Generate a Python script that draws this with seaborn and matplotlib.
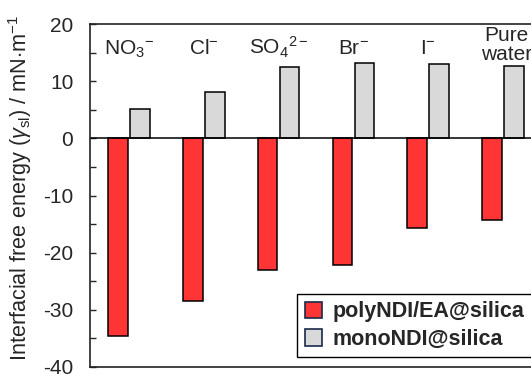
import matplotlib
matplotlib.use("Agg")
import matplotlib.pyplot as plt
import seaborn as sns
import pandas as pd
from matplotlib.ticker import MultipleLocator

categories = [r"NO$_3{}^{-}$", r"Cl$^{-}$", r"SO$_4{}^{2-}$", r"Br$^{-}$", r"I$^{-}$", "Pure\nwater"]
series_names = ["polyNDI/EA@silica", "monoNDI@silica"]
poly_values = [-34.6, -28.5, -23.1, -22.2, -15.6, -14.3]
mono_values = [5.2, 8.1, 12.4, 13.2, 13.0, 12.6]
y_ticks = [-40, -30, -20, -10, 0, 10, 20]
colors = {"polyNDI/EA@silica": "#ff3535", "monoNDI@silica": "#d9d9d9"}

sns.set_style("ticks")
plt.rcParams["font.family"] = ["Liberation Sans", "DejaVu Sans"]
plt.rcParams["mathtext.fontset"] = "custom"
plt.rcParams["mathtext.rm"] = "Liberation Sans"
plt.rcParams["mathtext.it"] = "Liberation Sans:italic"
plt.rcParams["mathtext.bf"] = "Liberation Sans:bold"
plt.rcParams["axes.unicode_minus"] = False

rows = []
for i, c in enumerate(categories):
    rows.append({"cat": i, "series": series_names[0], "val": poly_values[i]})
    rows.append({"cat": i, "series": series_names[1], "val": mono_values[i]})
df = pd.DataFrame(rows)

fig = plt.figure(figsize=(5.31, 3.74), dpi=100)
ax = fig.add_axes([90 / 531, 1 - 367 / 374, 452 / 531, 343 / 374])

sns.barplot(data=df, x="cat", y="val", hue="series", hue_order=series_names,
            palette=colors, saturation=1, width=0.586, gap=0.1, edgecolor="black",
            linewidth=1.1, ax=ax, legend=True)

ax.set_xlim(-0.52, 5.52)
ax.set_ylim(-40, 20)
ax.set_yticks(y_ticks)
ax.set_yticklabels([str(t) for t in y_ticks], fontsize=15)
ax.yaxis.set_minor_locator(MultipleLocator(5))
ax.tick_params(axis="y", which="both", direction="in", length=4, width=1.0, pad=12)
ax.tick_params(axis="x", which="both", bottom=False, labelbottom=False)
ax.set_xlabel("")
ax.axhline(0, color="black", lw=1.1, zorder=1)

for s in ["left", "top", "bottom"]:
    ax.spines[s].set_linewidth(1.2)
    ax.spines[s].set_color("#222222")
    ax.spines[s].set_visible(True)
ax.spines["right"].set_visible(False)

for i, c in enumerate(categories):
    if "\n" in c:
        ax.text(i + 0.05, 19.6, c, ha="center", va="top", fontsize=15, linespacing=0.95)
    else:
        ax.text(i, 14.7, c, ha="center", va="baseline", fontsize=15)

ax.set_ylabel(r"Interfacial free energy ($\it{\gamma}_{\rm sl}$) / mN$\cdot$m$^{-1}$", fontsize=15.6)
ax.yaxis.set_label_coords(-0.124, 0.523)

handles, labels = ax.get_legend_handles_labels()
leg = ax.legend(handles, labels, loc="lower right", bbox_to_anchor=(1.0, 0.0),
                borderaxespad=0.45,
                frameon=True, fancybox=False, edgecolor="black", framealpha=1,
                prop={"weight": "bold", "size": 15.5}, handlelength=0.8,
                handleheight=0.8, handletextpad=0.5, labelspacing=0.3, borderpad=0.35)
leg.get_frame().set_linewidth(1.0)
for h in leg.legend_handles:
    h.set_edgecolor("#1a2a4a")
    h.set_linewidth(1.2)

fig.savefig("out.png", dpi=100)
